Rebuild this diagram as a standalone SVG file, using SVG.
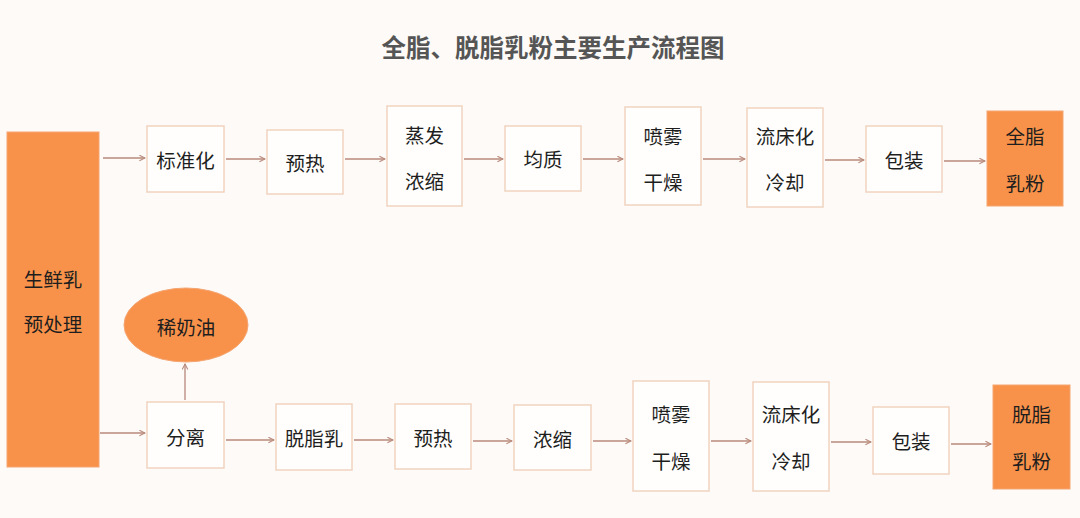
<svg xmlns="http://www.w3.org/2000/svg" width="1080" height="518" viewBox="0 0 1080 518">
<style>
.bg{fill:#fdfaf7}
.box{fill:#fffefd;stroke:#f1d3bf;stroke-width:1.5}
.org{fill:#f8924a;stroke:#f5a572;stroke-width:1}
.t{font-family:"Noto Sans CJK SC","Noto Sans",sans-serif;font-size:19.5px;fill:#1e1e1e;text-anchor:middle;dominant-baseline:central}
.title{font-family:"Noto Sans CJK SC","Noto Sans",sans-serif;font-size:24.5px;font-weight:bold;fill:#555;text-anchor:middle;dominant-baseline:central}
.c{stroke:#b8897a;stroke-width:1.3;fill:none;marker-end:url(#ah)}
</style>
<defs>
<marker id="ah" viewBox="0 0 10 10" refX="9" refY="5" markerWidth="7" markerHeight="7" orient="auto" markerUnits="userSpaceOnUse">
<path d="M1,1 L9,5 L1,9" fill="none" stroke="#b8897a" stroke-width="1.5"/>
</marker>
</defs>
<rect class="bg" x="0" y="0" width="1080" height="518"/>
<text class="title" x="553" y="46">全脂、脱脂乳粉主要生产流程图</text>

<g id="n-raw"><rect class="org" x="7" y="132" width="92" height="335"/><text class="t" x="53" y="278">生鲜乳</text><text class="t" x="53" y="323">预处理</text></g>

<g id="n-std"><rect class="box" x="147" y="126" width="77" height="66"/><text class="t" x="185.5" y="159">标准化</text></g>
<g id="n-pre1"><rect class="box" x="267" y="130" width="76" height="64"/><text class="t" x="305" y="162">预热</text></g>
<g id="n-evap"><rect class="box" x="387" y="106" width="75" height="100"/><text class="t" x="424.5" y="134">蒸发</text><text class="t" x="424.5" y="180">浓缩</text></g>
<g id="n-homo"><rect class="box" x="505" y="126" width="76" height="65"/><text class="t" x="543" y="158">均质</text></g>
<g id="n-spray1"><rect class="box" x="625" y="107" width="76" height="98"/><text class="t" x="663" y="135">喷雾</text><text class="t" x="663" y="181">干燥</text></g>
<g id="n-fluid1"><rect class="box" x="747" y="108" width="76" height="99"/><text class="t" x="785" y="135">流床化</text><text class="t" x="785" y="181">冷却</text></g>
<g id="n-pack1"><rect class="box" x="866" y="126" width="76" height="66"/><text class="t" x="904" y="159">包装</text></g>
<g id="n-whole"><rect class="org" x="987" y="111" width="76" height="95"/><text class="t" x="1025" y="135">全脂</text><text class="t" x="1025" y="182">乳粉</text></g>

<g id="n-cream"><ellipse class="org" cx="186" cy="325" rx="62" ry="37"/><text class="t" x="186" y="326">稀奶油</text></g>
<g id="n-sep"><rect class="box" x="147" y="402" width="77" height="66"/><text class="t" x="185.5" y="436">分离</text></g>
<g id="n-skim"><rect class="box" x="276" y="404" width="76" height="66"/><text class="t" x="314" y="437">脱脂乳</text></g>
<g id="n-pre2"><rect class="box" x="395" y="404" width="76" height="65"/><text class="t" x="433" y="437">预热</text></g>
<g id="n-conc"><rect class="box" x="514" y="405" width="77" height="65"/><text class="t" x="552.5" y="438">浓缩</text></g>
<g id="n-spray2"><rect class="box" x="633" y="381" width="76" height="110"/><text class="t" x="671" y="413">喷雾</text><text class="t" x="671" y="460">干燥</text></g>
<g id="n-fluid2"><rect class="box" x="753" y="382" width="76" height="109"/><text class="t" x="791" y="413">流床化</text><text class="t" x="791" y="460">冷却</text></g>
<g id="n-pack2"><rect class="box" x="873" y="407" width="76" height="67"/><text class="t" x="911" y="440">包装</text></g>
<g id="n-skimpow"><rect class="org" x="993" y="385" width="77" height="104"/><text class="t" x="1031.5" y="413">脱脂</text><text class="t" x="1031.5" y="460">乳粉</text></g>

<g id="connectors">
<line class="c" x1="103" y1="158" x2="145" y2="158"/>
<line class="c" x1="226" y1="159" x2="265" y2="159"/>
<line class="c" x1="345" y1="159" x2="385" y2="159"/>
<line class="c" x1="464" y1="159" x2="503" y2="159"/>
<line class="c" x1="583" y1="159" x2="623" y2="159"/>
<line class="c" x1="703" y1="159" x2="745" y2="159"/>
<line class="c" x1="825" y1="160" x2="864" y2="160"/>
<line class="c" x1="944" y1="161" x2="985" y2="161"/>
<line class="c" x1="100" y1="433" x2="145" y2="433"/>
<line class="c" x1="185" y1="400" x2="185" y2="364"/>
<line class="c" x1="226" y1="440" x2="274" y2="440"/>
<line class="c" x1="354" y1="440" x2="393" y2="440"/>
<line class="c" x1="473" y1="441" x2="512" y2="441"/>
<line class="c" x1="593" y1="441" x2="631" y2="441"/>
<line class="c" x1="711" y1="441" x2="751" y2="441"/>
<line class="c" x1="831" y1="442" x2="871" y2="442"/>
<line class="c" x1="951" y1="444" x2="991" y2="444"/>
</g>
</svg>
